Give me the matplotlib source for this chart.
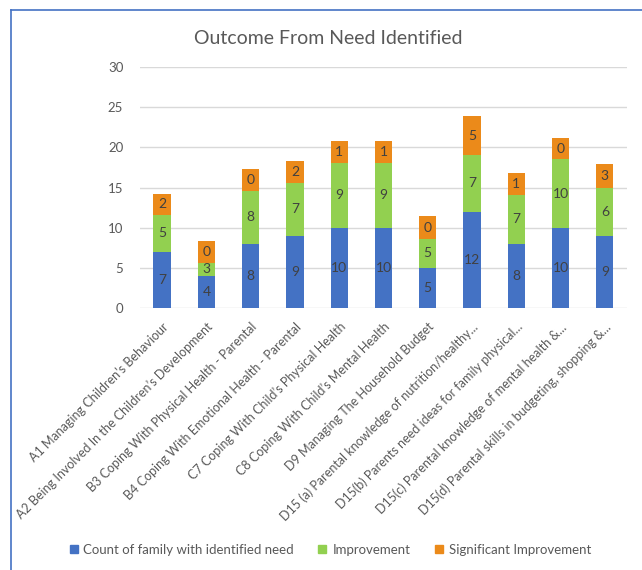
import matplotlib.pyplot as plt
from matplotlib.lines import Line2D

plt.rcParams['font.family'] = ['Lato', 'DejaVu Sans']

categorias = [
    "A1 Managing Children\u2019s Behaviour",
    "A2 Being Involved In the Children\u2019s Development",
    "B3 Coping With Physical Health - Parental",
    "B4 Coping With Emotional Health - Parental",
    "C7 Coping With Child\u2019s Physical Health",
    "C8 Coping With Child\u2019s Mental Health",
    "D9 Managing The Household Budget",
    "D15 (a) Parental knowledge of nutrition/healthy...",
    "D15(b) Parents need ideas for family physical...",
    "D15(c) Parental knowledge of mental health &...",
    "D15(d) Parental skills in budgeting, shopping &...",
]

# alturas de los segmentos tal como se ven en la imagen
necesidad  = [7, 4, 8, 9, 10, 10, 5, 12, 8, 10, 9]
mejora     = [4.6, 1.6, 6.6, 6.6, 8.1, 8.1, 3.6, 7.0, 6.1, 8.5, 5.9]
mejora_sig = [2.6, 2.8, 2.7, 2.7, 2.7, 2.7, 2.8, 4.9, 2.7, 2.7, 3.0]

# etiquetas escritas sobre cada segmento
etq_necesidad  = [7, 4, 8, 9, 10, 10, 5, 12, 8, 10, 9]
etq_mejora     = [5, 3, 8, 7, 9, 9, 5, 7, 7, 10, 6]
etq_mejora_sig = [2, 0, 0, 2, 1, 1, 0, 5, 1, 0, 3]

azul = '#4472C4'
verde = '#92D050'
naranja = '#EB8A1A'
gris = '#595959'

fig = plt.figure(figsize=(6.42, 5.70), dpi=100)
ax = fig.add_axes([0.218, 0.4596, 0.7586, 0.4229])

x = list(range(len(categorias)))
base2 = [necesidad[i] + mejora[i] for i in x]
ancho = 0.39

ax.bar(x, necesidad, ancho, color=azul, zorder=2)
ax.bar(x, mejora, ancho, bottom=necesidad, color=verde, zorder=2)
ax.bar(x, mejora_sig, ancho, bottom=base2, color=naranja, zorder=3)

for i in x:
    ax.text(i, necesidad[i] / 2, str(etq_necesidad[i]), ha='center', va='center',
            fontsize=10, color='#404040', zorder=5)
    ax.text(i, necesidad[i] + mejora[i] / 2, str(etq_mejora[i]), ha='center', va='center',
            fontsize=10, color='#404040', zorder=2.5)
    ax.text(i, base2[i] + mejora_sig[i] / 2, str(etq_mejora_sig[i]), ha='center', va='center',
            fontsize=10, color='#404040', zorder=5)

ax.set_xlim(-0.5, len(categorias) - 0.5)
ax.set_ylim(0, 30)
ax.set_yticks(range(0, 31, 5))
ax.set_xticks(x)
ax.set_xticklabels(categorias, rotation=45, ha='right', va='top', rotation_mode='anchor',
                   fontsize=9, color=gris)
ax.tick_params(axis='y', length=0, pad=12, labelsize=9.5, labelcolor=gris)
ax.tick_params(axis='x', length=0, pad=9)
ax.grid(axis='y', color='#D9D9D9', linewidth=1, zorder=0)
for s in ax.spines.values():
    s.set_visible(False)
ax.set_axisbelow(True)

fig.text(0.511, 0.933, 'Outcome From Need Identified', ha='center', va='center',
         fontsize=14, color=gris)

handles = [Line2D([], [], marker='s', linestyle='', color=c, markersize=6) for c in (azul, verde, naranja)]
fig.legend(handles, ['Count of family with identified need', 'Improvement', 'Significant Improvement'],
           loc='center', bbox_to_anchor=(0.514, 0.035), ncol=3, frameon=False,
           fontsize=9.5, labelcolor=gris, handlelength=0.7, handletextpad=0.4, columnspacing=1.8)

# borde del grafico
fig.add_artist(Line2D([11 / 642, 1], [1 - 10 / 570, 1 - 10 / 570], color='#4472C4', linewidth=1.2))
fig.add_artist(Line2D([11 / 642, 11 / 642], [0, 1 - 10 / 570], color='#4472C4', linewidth=1.2))

fig.savefig('out.png', dpi=100)
